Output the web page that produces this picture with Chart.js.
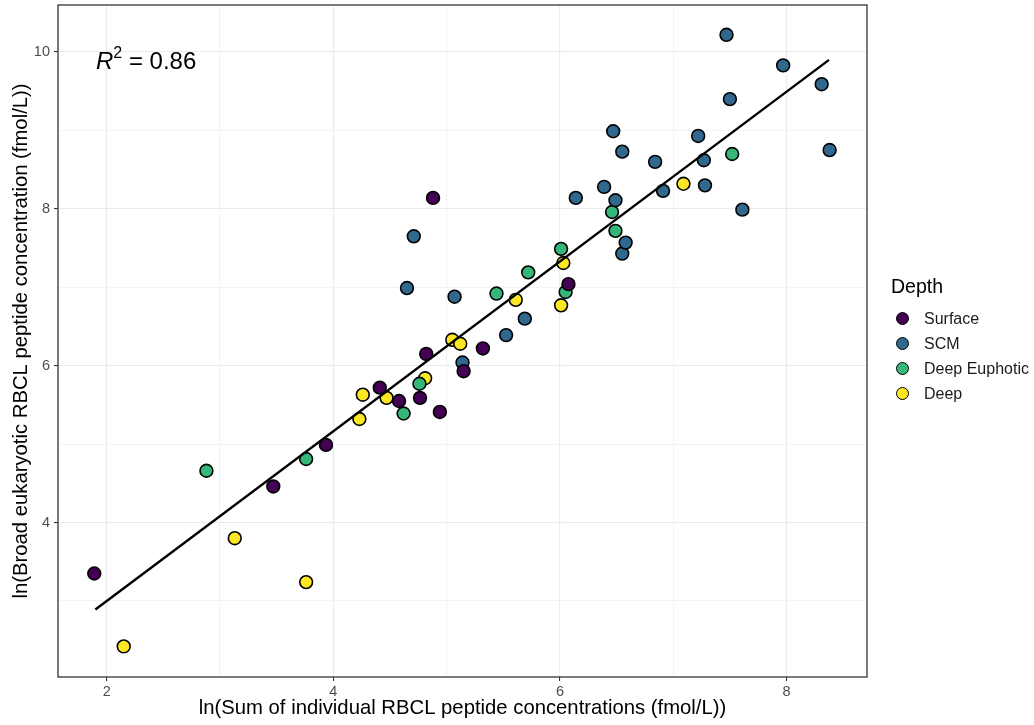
<!DOCTYPE html>
<html>
<head>
<meta charset="utf-8">
<script src="https://cdn.jsdelivr.net/npm/chart.js@4.4.1/dist/chart.umd.min.js"></script>
<style>
  html, body { margin: 0; padding: 0; background: #fff; }
  #wrap { position: relative; width: 1034px; height: 725px; font-family: "Liberation Sans", Arial, sans-serif; }
  #c { position: absolute; left: 0; top: 0; }
  #r2 { position: absolute; left: 96px; top: 46px; font-size: 24px; color: #000; white-space: nowrap; }
  #r2 i { font-style: italic; }
  #r2 sup { font-size: 16px; position: relative; top: -2px; }
  #legend { position: absolute; left: 891px; top: 273px; color: #000; }
  #legend .title { font-size: 19.5px; height: 33px; line-height: 26px; }
  #legend .item { display: flex; align-items: center; height: 25px; font-size: 16px; color: #1a1a1a; }
  #legend .dot { width: 11px; height: 11px; border-radius: 50%; border: 1.7px solid #000; margin-left: 5px; margin-right: 15px; }
</style>
</head>
<body>
<div id="wrap">
  <canvas id="c" width="1034" height="725"></canvas>
  <div id="r2"><i>R</i><sup>2</sup> = 0.86</div>
  <div id="legend"></div>
</div>
<script>
// ---- Data ----
const depthGroups = ["Surface", "SCM", "Deep Euphotic", "Deep"];
const groupColors = ["#440154", "#31688E", "#35B779", "#FDE725"];

const surfaceX = [1.89, 3.47, 3.935, 4.41, 4.58, 4.765, 4.82, 4.88, 4.94, 5.15, 5.32, 6.075];
const surfaceY = [3.35, 4.46, 4.99, 5.72, 5.55, 5.59, 6.15, 8.14, 5.41, 5.93, 6.22, 7.04];

const scmX = [4.65, 4.71, 5.07, 5.14, 5.525, 5.69, 6.14, 6.39, 6.47, 6.49, 6.55, 6.55, 6.58, 6.84, 6.91, 7.22, 7.27, 7.28, 7.47, 7.50, 7.61, 7.97, 8.31, 8.38];
const scmY = [6.99, 7.65, 6.88, 6.04, 6.39, 6.60, 8.14, 8.28, 8.99, 8.11, 8.73, 7.43, 7.57, 8.60, 8.23, 8.93, 8.62, 8.30, 10.22, 9.40, 7.99, 9.83, 9.59, 8.75];

const deepEuphoticX = [2.88, 3.76, 4.62, 4.76, 5.44, 5.72, 6.01, 6.05, 6.46, 6.49, 7.52];
const deepEuphoticY = [4.66, 4.81, 5.39, 5.77, 6.92, 7.19, 7.49, 6.94, 7.96, 7.72, 8.70];

const deepX = [2.15, 3.13, 3.76, 4.23, 4.26, 4.47, 4.81, 5.05, 5.12, 5.61, 6.01, 6.03, 7.09];
const deepY = [2.42, 3.80, 3.24, 5.32, 5.63, 5.59, 5.84, 6.33, 6.28, 6.84, 6.77, 7.31, 8.32];

// regression line end points
const fitX = [1.90, 8.375];
const fitY = [2.89, 9.90];

const xGridValues = [2, 3, 4, 5, 6, 7, 8];
const yGridValues = [3, 4, 5, 6, 7, 8, 9, 10];
const xTickLabels = [2, 4, 6, 8];
const yTickLabels = [4, 6, 8, 10];

const xTitle = "ln(Sum of individual RBCL peptide concentrations (fmol/L))";
const yTitle = "ln(Broad eukaryotic RBCL peptide concentration (fmol/L))";

// ---- Build ----
function pts(xs, ys) { return xs.map((x, i) => ({ x: x, y: ys[i] })); }
const groupX = [surfaceX, scmX, deepEuphoticX, deepX];
const groupY = [surfaceY, scmY, deepEuphoticY, deepY];

const datasets = [{
  type: 'line',
  label: 'fit',
  data: pts(fitX, fitY),
  borderColor: '#000',
  borderWidth: 2.4,
  pointRadius: 0,
  fill: false,
  order: 0
}];
depthGroups.forEach((g, i) => {
  datasets.push({
    type: 'scatter',
    label: g,
    data: pts(groupX[i], groupY[i]),
    backgroundColor: groupColors[i],
    borderColor: '#000',
    borderWidth: 1.6,
    pointRadius: 6.4,
    pointHoverRadius: 6.4,
    order: 1 + i
  });
});

const legend = document.getElementById('legend');
legend.innerHTML = '<div class="title">Depth</div>' + depthGroups.map((g, i) =>
  '<div class="item"><span class="dot" style="background:' + groupColors[i] + '"></span>' + g + '</div>').join('');

const framePlugin = {
  id: 'frame',
  afterDatasetsDraw(chart) {
    const a = chart.chartArea, ctx = chart.ctx;
    ctx.save();
    ctx.strokeStyle = '#333';
    ctx.lineWidth = 1.3;
    ctx.strokeRect(a.left, a.top, a.right - a.left, a.bottom - a.top);
    ctx.restore();
  }
};

const tickFont = { family: '"Liberation Sans", Arial, sans-serif', size: 14.5 };
const titleFont = { family: '"Liberation Sans", Arial, sans-serif', size: 20.3 };

new Chart(document.getElementById('c'), {
  data: { datasets: datasets },
  plugins: [framePlugin],
  options: {
    responsive: false,
    animation: false,
    devicePixelRatio: 1,
    layout: { autoPadding: false, padding: { left: 0, right: 167, top: 5, bottom: 0 } },
    plugins: { legend: { display: false }, tooltip: { enabled: false } },
    scales: {
      x: {
        type: 'linear',
        min: 1.57, max: 8.71,
        afterBuildTicks: (axis) => { axis.ticks = xGridValues.map(v => ({ value: v })); },
        afterFit: (axis) => { axis.height = 48; axis.paddingLeft = 0; axis.paddingRight = 0; },
        border: { display: false },
        grid: {
          color: (c) => xTickLabels.includes(c.tick && c.tick.value) ? '#ebebeb' : '#f3f3f3',
          lineWidth: 1.1,
          tickLength: 4,
          tickColor: (c) => xTickLabels.includes(c.tick && c.tick.value) ? '#333' : 'rgba(0,0,0,0)',
          tickWidth: 1.1
        },
        ticks: {
          autoSkip: false,
          maxRotation: 0,
          padding: 2,
          color: '#4d4d4d',
          font: tickFont,
          callback: (v) => xTickLabels.includes(v) ? String(v) : ''
        },
        title: { display: true, text: xTitle, color: '#000', font: titleFont, padding: { top: 4, bottom: 4 } }
      },
      y: {
        type: 'linear',
        min: 2.03, max: 10.6,
        afterBuildTicks: (axis) => { axis.ticks = yGridValues.map(v => ({ value: v })); },
        afterFit: (axis) => { axis.width = 58; axis.paddingTop = 0; axis.paddingBottom = 0; },
        border: { display: false },
        grid: {
          color: (c) => yTickLabels.includes(c.tick && c.tick.value) ? '#ebebeb' : '#f3f3f3',
          lineWidth: 1.1,
          tickLength: 4,
          tickColor: (c) => yTickLabels.includes(c.tick && c.tick.value) ? '#333' : 'rgba(0,0,0,0)',
          tickWidth: 1.1
        },
        ticks: {
          autoSkip: false,
          padding: 4,
          color: '#4d4d4d',
          font: tickFont,
          callback: (v) => yTickLabels.includes(v) ? String(v) : ''
        },
        title: { display: true, text: yTitle, color: '#000', font: titleFont, padding: { top: 9, bottom: 9 } }
      }
    }
  }
});
</script>
</body>
</html>
